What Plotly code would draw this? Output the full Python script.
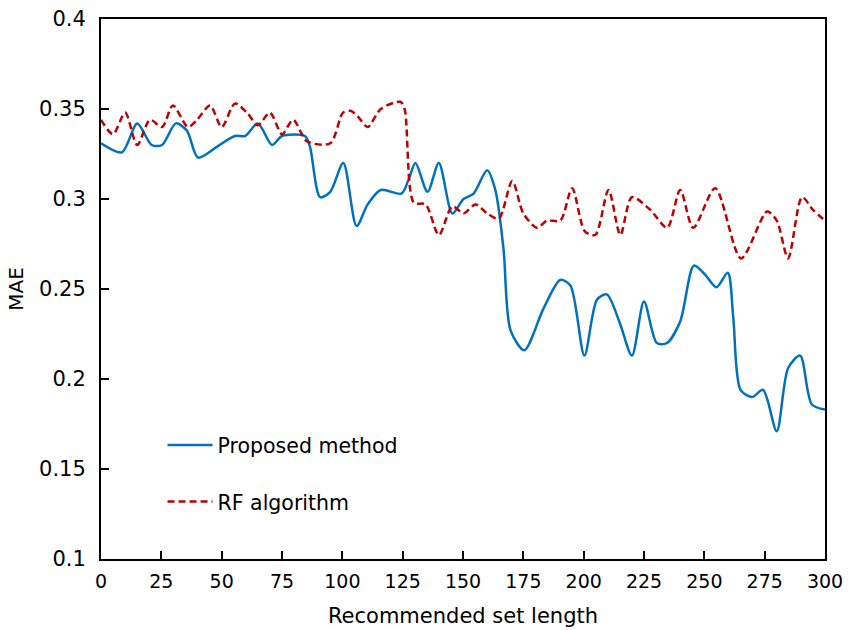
import plotly.graph_objects as go

# Proposed method (blue, solid)
prop_x = [0, 8.7, 15, 21, 25.3, 31, 35.6, 40.2, 48, 55.5, 59.7, 65, 70.9, 75, 84.5, 86.6, 90.8, 95,
          100.4, 105.9, 110.5, 115.9, 124.5, 127.5, 130.3, 135.3, 140, 145.6, 150.2, 154.4, 160, 163.4,
          166.8, 169.7, 175.4, 183.3, 190.3, 194.5, 200.3, 205.5, 209.6, 215, 220, 225, 230.3, 234.5,
          240, 245.7, 250.3, 255, 259.7, 262, 265, 269.8, 274.3, 280, 284.7, 289.7, 294.5, 300]
prop_y = [0.331, 0.326, 0.342, 0.330, 0.330, 0.342, 0.338, 0.323, 0.329, 0.335, 0.335, 0.342, 0.330,
          0.335, 0.335, 0.329, 0.301, 0.304, 0.320, 0.285, 0.297, 0.305, 0.303, 0.311, 0.320, 0.304,
          0.320, 0.292, 0.300, 0.303, 0.316, 0.305, 0.272, 0.227, 0.216, 0.239, 0.255, 0.252, 0.213,
          0.244, 0.247, 0.231, 0.213, 0.243, 0.220, 0.220, 0.232, 0.263, 0.258, 0.251, 0.259, 0.234,
          0.194, 0.190, 0.194, 0.171, 0.206, 0.213, 0.186, 0.183]

# RF algorithm (red, dashed)
rf_x = [0, 5, 10, 15, 20.3, 25.3, 29.8, 36, 39.8, 45.2, 50, 55.5, 60.5, 65, 70, 75, 79.6, 85.4, 95,
        100.3, 103.4, 106.3, 110.5, 115.9, 124, 125.8, 129.6, 134.5, 140, 145.6, 150.2, 155.2, 160,
        164.8, 170.4, 175, 180.7, 184.8, 190.3, 195.2, 200.5, 204.8, 210.3, 215.2, 220, 227.6, 234.6,
        240, 245.4, 254.5, 265.2, 276, 280, 284.7, 290.5, 295, 300]
rf_y = [0.344, 0.336, 0.348, 0.330, 0.344, 0.340, 0.352, 0.340, 0.344, 0.352, 0.340, 0.353, 0.348,
        0.341, 0.348, 0.336, 0.344, 0.332, 0.331, 0.348, 0.349, 0.346, 0.340, 0.350, 0.354, 0.350,
        0.298, 0.297, 0.280, 0.296, 0.292, 0.297, 0.292, 0.289, 0.310, 0.292, 0.284, 0.288, 0.288,
        0.306, 0.282, 0.280, 0.305, 0.280, 0.301, 0.294, 0.284, 0.305, 0.284, 0.306, 0.267, 0.293,
        0.288, 0.267, 0.301, 0.294, 0.288]

x_ticks = [0, 25, 50, 75, 100, 125, 150, 175, 200, 225, 250, 275, 300]
y_ticks = [0.1, 0.15, 0.2, 0.25, 0.3, 0.35, 0.4]
y_tick_text = ["0.1", "0.15", "0.2", "0.25", "0.3", "0.35", "0.4"]

font_family = "DejaVu Sans"

fig = go.Figure()
fig.add_trace(go.Scatter(
    x=prop_x, y=prop_y, mode="lines", name="Proposed method",
    line=dict(color="#0070C0", width=2.5, shape="spline", smoothing=0.8),
    legendgroup="a",
))
fig.add_trace(go.Scatter(
    x=rf_x, y=rf_y, mode="lines", name="RF algorithm",
    line=dict(color="#C00000", width=2.5, shape="spline", smoothing=0.8, dash="7px,4px"),
    legendgroup="b",
))

fig.update_layout(
    width=848, height=630,
    margin=dict(l=101, r=23, t=19, b=71, autoexpand=False),
    paper_bgcolor="white", plot_bgcolor="white",
    font=dict(family=font_family, size=20, color="black"),
    showlegend=True,
    legend=dict(
        x=0.085, y=0.248, xanchor="left", yanchor="top",
        bgcolor="rgba(0,0,0,0)", borderwidth=0,
        font=dict(family=font_family, size=20.5, color="black"),
        traceorder="grouped", tracegroupgap=27, itemwidth=45,
    ),
    xaxis=dict(
        range=[0, 300], tickvals=x_ticks, ticktext=[str(v) for v in x_ticks],
        ticks="inside", ticklen=8, tickwidth=1.5, tickcolor="black",
        showline=True, linecolor="black", linewidth=2, mirror=True,
        showgrid=False, zeroline=False, ticklabelstandoff=4, automargin=False,
        title=dict(text="Recommended set length", font=dict(size=21), standoff=18),
        tickfont=dict(size=19),
    ),
    yaxis=dict(
        range=[0.1, 0.4], tickvals=y_ticks, ticktext=y_tick_text,
        ticks="inside", ticklen=8, tickwidth=1.5, tickcolor="black",
        showline=True, linecolor="black", linewidth=2, mirror=True,
        showgrid=False, zeroline=False, ticklabelstandoff=9, automargin=False,
        title=dict(text="MAE", font=dict(size=20), standoff=10),
        tickfont=dict(size=21),
    ),
)

fig.write_html("out.html")
